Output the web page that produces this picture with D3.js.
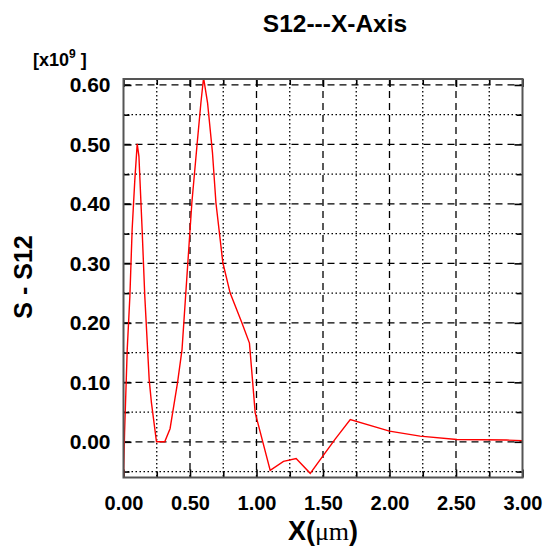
<!DOCTYPE html>
<html>
<head>
<meta charset="utf-8">
<script src="https://cdn.jsdelivr.net/npm/d3@7"></script>
<style>
  html, body { margin: 0; padding: 0; background: #fff; }
  svg { display: block; }
</style>
</head>
<body>
<svg id="chart" width="545" height="552"></svg>
<script>
// ---- data ----
const xValues = [0, 0.008, 0.028, 0.048, 0.065, 0.085, 0.103, 0.116, 0.14, 0.16, 0.193, 0.21, 0.248, 0.31, 0.35, 0.406, 0.44, 0.514, 0.552, 0.582, 0.602, 0.632, 0.669, 0.695, 0.747, 0.802, 0.89, 0.947, 0.99, 1.103, 1.203, 1.298, 1.404, 1.59, 1.705, 2.0, 2.23, 2.507, 2.88, 3.0];
const yValues = [-0.06, 0.015, 0.155, 0.245, 0.357, 0.44, 0.501, 0.48, 0.357, 0.245, 0.105, 0.066, 0.0, 0.0, 0.022, 0.099, 0.155, 0.402, 0.497, 0.57, 0.612, 0.57, 0.486, 0.402, 0.301, 0.25, 0.2, 0.166, 0.049, -0.048, -0.033, -0.028, -0.053, 0.004, 0.0375, 0.018, 0.0095, 0.004, 0.003, 0.002];
const xMajorTicks = [0, 0.5, 1.0, 1.5, 2.0, 2.5, 3.0];
const xMinorTicks = [0.25, 0.75, 1.25, 1.75, 2.25, 2.75];
const yMajorTicks = [0.0, 0.1, 0.2, 0.3, 0.4, 0.5, 0.6];
const yMinorTicks = [-0.05, 0.05, 0.15, 0.25, 0.35, 0.45, 0.55];
const xDomain = [0, 3];
const yDomain = [-0.06, 0.61];
const titleText = "S12---X-Axis";
const yLabelText = "S - S12";

// ---- layout ----
const L = 123.5, R = 522.5, T = 79, B = 477.5;
const svg = d3.select("#chart");
const x = d3.scaleLinear().domain(xDomain).range([L, R]);
const y = d3.scaleLinear().domain(yDomain).range([B, T]);

// grid lines
const grid = svg.append("g");
grid.selectAll("line.xmin").data(xMinorTicks).enter().append("line")
  .attr("x1", d => x(d)).attr("x2", d => x(d)).attr("y1", T).attr("y2", B)
  .attr("stroke", "#000").attr("stroke-width", 1.3).attr("stroke-dasharray", "1.5,2.5");
grid.selectAll("line.xmaj").data(xMajorTicks.slice(1, -1)).enter().append("line")
  .attr("x1", d => x(d)).attr("x2", d => x(d)).attr("y1", T).attr("y2", B)
  .attr("stroke", "#000").attr("stroke-width", 1.3).attr("stroke-dasharray", "7,5");
grid.selectAll("line.ymin").data(yMinorTicks).enter().append("line")
  .attr("y1", d => y(d)).attr("y2", d => y(d)).attr("x1", L).attr("x2", R)
  .attr("stroke", "#000").attr("stroke-width", 1.3).attr("stroke-dasharray", "1.5,2.5");
grid.selectAll("line.ymaj").data(yMajorTicks).enter().append("line")
  .attr("y1", d => y(d)).attr("y2", d => y(d)).attr("x1", L).attr("x2", R)
  .attr("stroke", "#000").attr("stroke-width", 1.3).attr("stroke-dasharray", "7,5");

// axes with inward ticks
const fmt = d3.format(".2f");
svg.append("g").attr("class", "xax").attr("transform", `translate(0,${B})`)
  .call(d3.axisBottom(x).tickValues(xMajorTicks).tickFormat(fmt).tickSize(-8).tickPadding(18));
svg.append("g").attr("transform", `translate(0,${T})`)
  .call(d3.axisTop(x).tickValues(xMajorTicks).tickFormat("").tickSize(-8));
svg.append("g").attr("class", "yax").attr("transform", `translate(${L},0)`)
  .call(d3.axisLeft(y).tickValues(yMajorTicks).tickFormat(fmt).tickSize(-8).tickPadding(13));
svg.append("g").attr("transform", `translate(${R},0)`)
  .call(d3.axisRight(y).tickValues(yMajorTicks).tickFormat("").tickSize(-8));
// minor ticks
svg.append("g").attr("transform", `translate(0,${B})`).call(d3.axisBottom(x).tickValues(xMinorTicks).tickFormat("").tickSize(-6));
svg.append("g").attr("transform", `translate(0,${T})`).call(d3.axisTop(x).tickValues(xMinorTicks).tickFormat("").tickSize(-6));
svg.append("g").attr("transform", `translate(${L},0)`).call(d3.axisLeft(y).tickValues(yMinorTicks).tickFormat("").tickSize(-6));
svg.append("g").attr("transform", `translate(${R},0)`).call(d3.axisRight(y).tickValues(yMinorTicks).tickFormat("").tickSize(-6));

svg.selectAll(".domain").remove();
svg.selectAll(".tick line").attr("stroke", "#000").attr("stroke-width", 1.6);
svg.selectAll(".tick text")
  .attr("font-family", "'Liberation Sans', Arial, sans-serif")
  .attr("font-weight", "bold").attr("fill", "#000");
svg.selectAll(".xax .tick text").attr("font-size", 20);
svg.selectAll(".yax .tick text").attr("font-size", 21);

// data line
svg.append("clipPath").attr("id", "clip").append("rect")
  .attr("x", L).attr("y", T).attr("width", R - L).attr("height", B - T);
const pts = xValues.map((v, i) => [v, yValues[i]]);
svg.append("path").datum(pts)
  .attr("clip-path", "url(#clip)")
  .attr("d", d3.line().x(d => x(d[0])).y(d => y(d[1])))
  .attr("fill", "none").attr("stroke", "#ff0000").attr("stroke-width", 1.4);

// frame
svg.append("rect").attr("x", L).attr("y", T).attr("width", R - L).attr("height", B - T)
  .attr("fill", "none").attr("stroke", "#555").attr("stroke-width", 2);

// texts
svg.append("text").attr("x", 335).attr("y", 32).attr("text-anchor", "middle")
  .attr("font-family", "'Liberation Sans', Arial, sans-serif").attr("font-size", 24.5)
  .attr("font-weight", "bold").attr("fill", "#000").text(titleText);

const mult = svg.append("text").attr("x", 33).attr("y", 66)
  .attr("font-family", "'Liberation Sans', Arial, sans-serif").attr("font-weight", "bold")
  .attr("font-size", 18).attr("fill", "#000");
mult.append("tspan").text("[x10");
mult.append("tspan").attr("dy", -8).attr("font-size", 12).text("9");
mult.append("tspan").attr("dy", 8).text(" ]");

const xl = svg.append("text").attr("x", (L + R) / 2).attr("y", 540).attr("text-anchor", "middle")
  .attr("font-family", "'Liberation Sans', Arial, sans-serif").attr("font-weight", "bold")
  .attr("font-size", 27).attr("fill", "#000");
xl.append("tspan").text("X(");
xl.append("tspan").attr("font-family", "'Liberation Serif', 'Times New Roman', serif")
  .attr("font-weight", "normal").attr("font-size", 26).text("\u03bcm");
xl.append("tspan").text(")");

svg.append("text").attr("transform", `translate(32,${277}) rotate(-90)`).attr("text-anchor", "middle")
  .attr("font-family", "'Liberation Sans', Arial, sans-serif").attr("font-weight", "bold")
  .attr("font-size", 25).attr("fill", "#000").text(yLabelText);
</script>
</body>
</html>
